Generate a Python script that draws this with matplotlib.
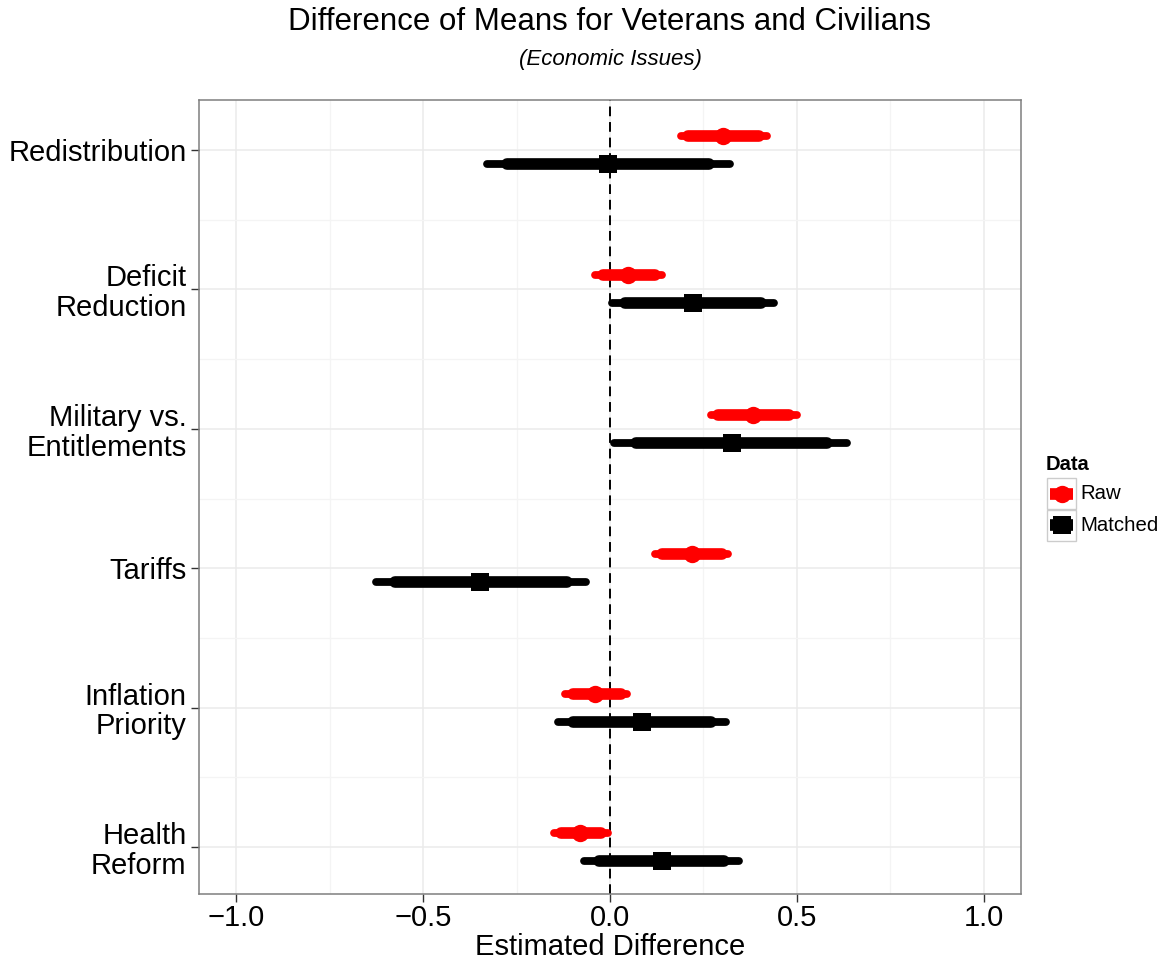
import matplotlib.pyplot as plt
import numpy as np
from matplotlib.lines import Line2D
from matplotlib.patches import Rectangle

plt.rcParams['font.family'] = ['Liberation Sans', 'DejaVu Sans']

# issues, top to bottom
issues = ['Redistribution', 'Deficit\nReduction', 'Military vs.\nEntitlements',
          'Tariffs', 'Inflation\nPriority', 'Health\nReform']

# Raw data: estimate, outer (95%) and inner (90%) intervals
raw_est = [0.302, 0.048, 0.382, 0.219, -0.040, -0.080]
raw_lo95 = [0.19, -0.04, 0.27, 0.12, -0.12, -0.15]
raw_hi95 = [0.42, 0.14, 0.50, 0.315, 0.045, -0.005]
raw_lo90 = [0.21, -0.02, 0.29, 0.14, -0.10, -0.13]
raw_hi90 = [0.40, 0.12, 0.48, 0.30, 0.03, -0.025]

# Matched data
matched_est = [-0.005, 0.222, 0.326, -0.348, 0.086, 0.139]
matched_lo95 = [-0.33, 0.005, 0.01, -0.625, -0.14, -0.07]
matched_hi95 = [0.32, 0.44, 0.635, -0.065, 0.31, 0.345]
matched_lo90 = [-0.275, 0.04, 0.07, -0.575, -0.10, -0.03]
matched_hi90 = [0.265, 0.405, 0.58, -0.115, 0.27, 0.305]

xticks = [-1.0, -0.5, 0.0, 0.5, 1.0]
xtick_labels = ['\u22121.0', '\u22120.5', '0.0', '0.5', '1.0']

n = len(issues)
ypos = np.arange(n, 0, -1)  # Redistribution at top

fig = plt.figure(figsize=(11.66, 9.63), dpi=100)
ax = fig.add_axes([199/1166, 1-894/963, (1021-199)/1166, (894-100)/963])

ax.axvline(0, color='black', lw=1.4, ls=(0, (5, 3)), zorder=2)

def draw(est, lo95, hi95, lo90, hi90, offset, color, marker, ms):
    y = ypos + offset
    thin = ax.hlines(y, lo95, hi95, color=color, lw=5.6, zorder=3)
    thin.set_capstyle('round')
    thick = ax.hlines(y, lo90, hi90, color=color, lw=8.4, zorder=4)
    thick.set_capstyle('round')
    ax.plot(est, y, ls='none', marker=marker, ms=ms, color=color,
            markeredgewidth=0, zorder=5)

draw(raw_est, raw_lo95, raw_hi95, raw_lo90, raw_hi90, 0.1, '#FF0000', 'o', 12.5)
draw(matched_est, matched_lo95, matched_hi95, matched_lo90, matched_hi90,
     -0.1, 'black', 's', 13.5)

ax.set_xlim(-1.1, 1.1)
ax.set_ylim(0.663, 6.359)
ax.set_xticks(xticks)
ax.set_xticklabels(xtick_labels, fontsize=21)
ax.set_xticks([-0.75, -0.25, 0.25, 0.75], minor=True)
ax.set_yticks(ypos)
ax.set_yticklabels(issues, fontsize=21, linespacing=1.08)
ax.set_yticks(np.arange(1.5, n, 1.0), minor=True)

ax.tick_params(which='major', length=6, width=1, color='#333333', pad=3)
ax.tick_params(axis='x', which='major', pad=1)
ax.tick_params(which='minor', length=0)
ax.grid(which='major', color='#EBEBEB', lw=1.1, zorder=0)
ax.grid(which='minor', color='#F4F4F4', lw=0.9, zorder=0)
ax.set_axisbelow(True)
for s in ax.spines.values():
    s.set_color('#7F7F7F')
    s.set_linewidth(1.1)

ax.set_xlabel('Estimated Difference', fontsize=21, labelpad=1)

fig.text(610/1166, 1-22/963, 'Difference of Means for Veterans and Civilians',
         ha='center', va='center', fontsize=22.5)
fig.text(610/1166, 1-60/963, '(Economic Issues)', ha='center', va='center',
         fontsize=16, style='italic')

# legend
fig.text(1046/1166, 1-464/963, 'Data', ha='left', va='center', fontsize=14.5,
         fontweight='bold')
legend_items = [('Raw', '#FF0000', 'o', 12.5), ('Matched', 'black', 's', 13.5)]
for i, (lab, col, mk, ms) in enumerate(legend_items):
    top = 478 + i * 31.5
    x0, x1 = 1047, 1076
    fig.add_artist(Rectangle((x0/1166, 1-(top+31.5)/963), (x1-x0)/1166, 31.5/963,
                             transform=fig.transFigure, facecolor='white',
                             edgecolor='#CCCCCC', lw=1))
    yc = 1 - (top + 15.75)/963
    fig.add_artist(Line2D([(x0+3)/1166, (x1-3)/1166], [yc, yc], color=col, lw=8.4,
                          solid_capstyle='butt', transform=fig.transFigure))
    fig.add_artist(Line2D([(x0+x1)/2/1166], [yc], color=col, marker=mk, ms=ms,
                          markeredgewidth=0, transform=fig.transFigure))
    fig.text(1080/1166, yc, lab, ha='left', va='center', fontsize=14.7)

fig.savefig('out.png', dpi=100)
